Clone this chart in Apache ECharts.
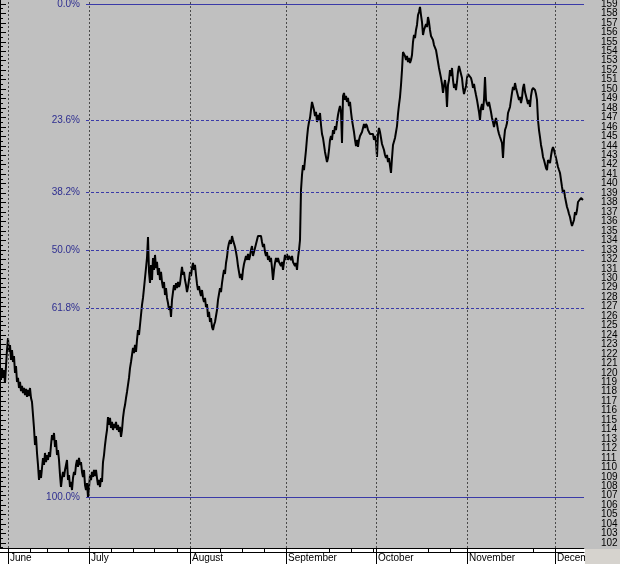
<!DOCTYPE html>
<html><head><meta charset="utf-8">
<script src="https://cdn.jsdelivr.net/npm/echarts@6/dist/echarts.min.js"></script>
<style>html,body{margin:0;padding:0;background:#c0c0c0}#c{width:620px;height:564px}</style>
</head><body><div id="c"></div>
<script>
const months = ['June','July','August','September','October','November','December'];
const monthStartBars = [8, 89, 190, 286, 376, 467, 555];
const weekTickBars = [30, 47, 68, 111, 133, 154, 177, 220, 242, 264, 329, 351, 373, 428, 450, 533];
const priceTickLabels = [102,103,104,105,106,107,108,109,110,111,112,113,114,115,116,117,118,119,120,121,122,123,124,125,126,127,128,129,130,131,132,133,134,135,136,137,138,139,140,141,142,143,144,145,146,147,148,149,150,151,152,153,154,155,156,157,158,159];
const fibRatios = [0, 0.236, 0.382, 0.5, 0.618, 1];
const fibLabels = ['0.0%','23.6%','38.2%','50.0%','61.8%','100.0%'];
const swingHigh = 159.0;
const swingLow = 106.85;
const fibStartBar = 86;
const prices = [
120.08,119.24,120.5,119.45,120.29,118.92,120.71,122.41,123.68,122.2,
122.94,121.35,122.41,121.14,121.77,119.98,120.71,119.03,119.45,118.39,
119.03,118.07,118.6,117.86,118.39,117.65,118.29,117.44,118.18,117.54,
118.39,117.33,116.91,115.53,114.16,112.36,113.31,111.52,110.25,108.66,
109.72,108.87,109.93,110.99,110.25,111.52,110.56,111.3,110.78,111.62,
111.09,112.36,113.42,112.89,113.63,112.15,112.89,111.3,111.83,110.78,
109.19,107.92,108.87,109.51,108.98,109.72,110.25,110.78,108.66,109.19,
107.92,108.45,107.6,108.87,109.51,109.19,110.25,110.78,110.04,110.99,
110.25,110.56,109.51,108.98,109.72,108.13,107.6,108.34,106.86,107.81,
109.19,108.66,109.51,108.98,109.72,109.08,109.72,108.87,108.13,108.66,
107.92,108.87,108.45,110.56,111.3,112.36,113.21,113.95,115.32,114.48,
115.22,114.16,114.8,113.95,114.58,114.16,114.8,113.95,114.48,113.74,
114.27,113.21,113.95,115.22,116.06,116.59,117.33,117.97,118.71,119.45,
120.5,121.14,121.88,122.62,122.09,122.94,122.2,123.47,124.52,124.0,
125.05,126.11,127.17,127.91,128.96,130.02,131.08,132.14,134.36,130.66,
129.49,131.4,129.81,132.14,130.87,132.46,131.08,131.72,130.34,131.08,
129.81,130.66,129.6,128.96,129.6,128.22,128.96,127.91,127.38,126.64,
127.06,125.9,127.7,128.54,129.28,128.75,129.49,128.96,129.6,129.07,
129.39,130.34,131.19,130.34,130.66,129.81,129.28,128.54,129.07,129.81,
130.66,130.23,131.08,131.61,130.87,131.4,130.34,129.39,128.75,129.17,
128.54,128.12,128.75,127.91,127.49,127.91,126.95,127.27,125.9,126.43,
125.37,125.79,124.84,124.52,125.05,125.37,126.0,126.64,127.7,128.33,
128.96,128.54,129.49,130.23,130.87,130.45,131.61,132.24,133.2,133.72,
134.04,133.62,134.46,134.04,134.25,133.3,132.77,132.14,131.29,130.66,
130.02,130.45,129.81,130.87,131.5,131.93,132.35,131.93,132.56,131.93,
132.35,132.98,133.4,132.35,132.77,132.56,133.62,134.04,134.46,134.67,
134.25,134.46,133.83,133.3,133.62,132.77,132.35,132.77,131.93,132.35,
131.72,132.14,131.08,129.81,130.87,131.61,132.14,131.72,132.14,131.72,
131.93,131.29,131.72,130.87,131.72,132.46,131.93,132.56,131.93,132.35,
132.46,131.93,132.35,131.72,131.93,131.29,131.61,130.87,132.14,132.98,
134.04,139.33,140.92,141.97,141.44,142.5,143.56,144.83,145.88,146.52,
146.94,147.79,148.64,148.85,147.79,147.15,147.58,146.52,147.26,146.73,
147.47,146.2,145.25,144.83,144.09,143.35,142.82,142.29,142.71,143.56,
144.62,145.04,144.62,145.67,145.25,146.09,145.67,146.52,147.26,147.79,
148.21,147.58,144.3,149.27,149.59,148.85,149.27,148.64,149.06,148.21,
148.64,147.58,146.73,146.09,145.46,144.62,143.98,144.62,143.88,144.62,
145.04,144.83,145.46,145.88,146.31,145.88,146.31,146.09,145.67,145.88,
145.25,145.46,145.04,145.25,144.62,145.04,144.41,142.82,145.25,145.88,
145.46,144.83,144.19,143.88,143.56,143.03,142.71,143.03,142.29,142.71,
141.87,141.13,142.71,144.09,144.3,144.83,145.46,146.09,147.37,148.32,
149.16,150.43,152.02,153.92,154.13,153.5,153.08,153.5,152.86,153.29,
152.76,153.08,153.6,154.98,155.72,155.4,156.25,156.78,157.83,158.15,
158.68,157.83,157.09,155.72,156.25,156.46,156.88,156.56,157.62,157.09,
156.25,155.61,155.82,155.19,154.66,154.77,154.13,153.92,152.86,152.23,
151.7,151.17,150.54,149.59,150.33,150.96,150.12,148.11,150.43,150.96,
152.02,151.38,152.23,150.96,150.12,150.54,149.9,150.75,151.81,152.44,
152.65,152.23,151.17,150.12,149.48,149.27,150.33,151.17,151.59,151.38,
151.7,151.17,150.75,150.12,150.54,149.9,149.37,148.85,148.21,147.58,
146.73,148.0,148.43,147.79,148.85,151.28,148.85,148.43,148.21,148.64,
148.11,147.58,146.94,146.52,145.99,146.52,146.94,146.73,145.67,145.25,
144.93,144.62,144.3,142.71,144.62,145.67,145.99,146.41,147.47,147.79,
148.11,148.85,149.59,150.22,149.9,150.64,150.12,150.33,149.27,148.85,
149.16,148.53,149.06,150.12,150.54,149.69,149.27,148.85,148.43,148.85,
148.11,149.27,149.9,150.12,150.33,149.9,149.48,148.85,146.73,145.67,
144.93,144.09,143.56,142.82,142.5,142.08,141.66,141.44,142.5,142.71,
142.18,142.92,143.56,143.88,143.56,143.35,142.71,142.5,141.76,141.44,
141.13,140.39,139.65,139.01,139.33,138.59,138.06,137.53,137.21,136.79,
136.47,135.94,135.52,135.31,136.16,137.0,136.68,137.21,138.06,138.27,
137.85,138.48,138.69,138.27
];

const FONT = "'Liberation Sans',Arial,sans-serif";
const xMax = prices.length;
const yMin = 101.47, yMax = 159.42;
const halfTicks = priceTickLabels.map(v => v - 0.5);
const evenLabels = priceTickLabels.filter(v => v % 2 === 0);
const oddLabels = priceTickLabels.filter(v => v % 2 === 1);
const range = swingHigh - swingLow;

const fibLines = fibRatios.map((r, i) => {
  const lv = swingHigh - r * range;
  const solid = (r === 0 || r === 1);
  return [
    { name: fibLabels[i], coord: [fibStartBar, lv],
      lineStyle: { type: solid ? 'solid' : [3, 2], color: '#3a3aa8', width: 1 },
      label: { show: true, position: 'start', formatter: '{b}', color: '#2e2e90',
               fontFamily: FONT, fontSize: 10, distance: 6 } },
    { coord: [xMax, lv] }
  ];
});
const monthLines = monthStartBars.map(b => ({
  xAxis: b, lineStyle: { type: [2, 2], color: '#4a4a4a', width: 1 }, label: { show: false }
}));

const yLabelStyle = { show: true, showMinLabel: true, showMaxLabel: true, margin: 17,
  color: '#000', fontFamily: FONT, fontSize: 10 };

const chart = echarts.init(document.getElementById('c'), null, { renderer: 'canvas' });
chart.setOption({
  animation: false,
  backgroundColor: '#c0c0c0',
  grid: { left: 0, right: 36, top: 0, bottom: 16, show: true, backgroundColor: '#c0c0c0',
          borderWidth: 0, containLabel: false, outerBoundsMode: 'none' },
  graphic: { elements: [
    { type: 'rect', z: -5, silent: true, shape: { x: 0, y: 548, width: 585, height: 16 }, style: { fill: '#ffffff' } },
    { type: 'rect', z: 100, silent: true, shape: { x: 585, y: 549, width: 35, height: 15 }, style: { fill: '#d6d3ce' } }
  ] },
  xAxis: [
    { type: 'value', min: 0, max: xMax, position: 'bottom',
      axisLine: { show: true, lineStyle: { color: '#000', width: 1 } },
      axisTick: { show: true, customValues: monthStartBars, length: 16, lineStyle: { color: '#000' } },
      axisLabel: { show: true, customValues: monthStartBars, showMinLabel: true, showMaxLabel: true,
        formatter: v => months[monthStartBars.indexOf(v)] || '',
        align: 'left', padding: [0, 0, 0, 2], margin: 5, color: '#000', fontFamily: FONT, fontSize: 10 },
      splitLine: { show: false } },
    { type: 'value', min: 0, max: xMax, position: 'bottom', offset: 4,
      axisLine: { show: true, lineStyle: { color: '#000', width: 1 } },
      axisTick: { show: true, customValues: weekTickBars, inside: true, length: 4, lineStyle: { color: '#000' } },
      axisLabel: { show: false }, splitLine: { show: false } }
  ],
  yAxis: [
    { type: 'value', position: 'right', min: yMin, max: yMax,
      axisLine: { show: true, lineStyle: { color: '#000', width: 1 } },
      axisTick: { show: true, customValues: priceTickLabels, length: 6, lineStyle: { color: '#000' } },
      axisLabel: Object.assign({ customValues: evenLabels }, yLabelStyle),
      splitLine: { show: false } },
    { type: 'value', position: 'right', min: yMin, max: yMax,
      axisLine: { show: false },
      axisTick: { show: true, customValues: halfTicks, length: 3, lineStyle: { color: '#000' } },
      axisLabel: { show: false }, splitLine: { show: false } },
    { type: 'value', position: 'right', min: yMin, max: yMax,
      axisLine: { show: false }, axisTick: { show: false },
      axisLabel: Object.assign({ customValues: oddLabels }, yLabelStyle),
      splitLine: { show: false } }
  ],
  series: [{
    type: 'line', xAxisIndex: 0, yAxisIndex: 0, symbol: 'none', silent: true,
    data: prices.map((p, i) => [i, p]),
    lineStyle: { color: '#000', width: 2 },
    markLine: { silent: true, symbol: ['none', 'none'], animation: false,
      data: monthLines.concat(fibLines) }
  }]
});
</script></body></html>
